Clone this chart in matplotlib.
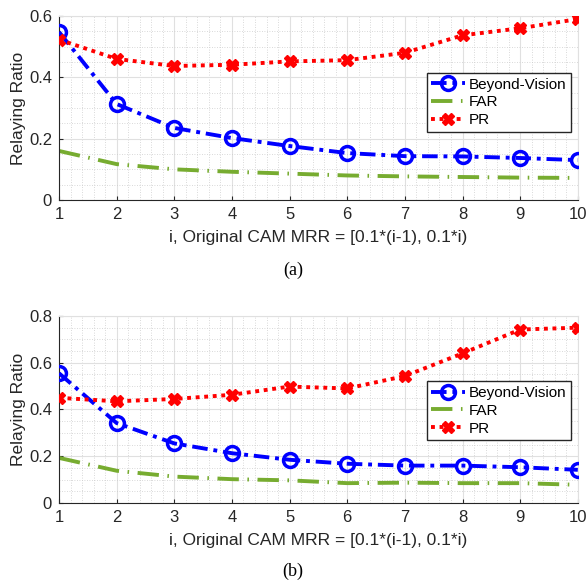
import matplotlib
matplotlib.use('Agg')
import matplotlib.pyplot as plt
from matplotlib.ticker import MultipleLocator, FormatStrFormatter

plt.rcParams['font.family'] = ['Liberation Sans', 'DejaVu Sans']

idx = [1, 2, 3, 4, 5, 6, 7, 8, 9, 10]

# panel (a)
bv_a = [0.548, 0.313, 0.235, 0.202, 0.176, 0.153, 0.143, 0.142, 0.137, 0.130]
far_a = [0.160, 0.117, 0.100, 0.092, 0.086, 0.080, 0.077, 0.075, 0.073, 0.072]
pr_a = [0.523, 0.460, 0.437, 0.441, 0.452, 0.456, 0.480, 0.537, 0.560, 0.590]

# panel (b)
bv_b = [0.555, 0.342, 0.255, 0.213, 0.185, 0.168, 0.160, 0.160, 0.153, 0.142]
far_b = [0.193, 0.138, 0.113, 0.102, 0.097, 0.085, 0.087, 0.085, 0.085, 0.078]
pr_b = [0.450, 0.435, 0.445, 0.463, 0.498, 0.490, 0.543, 0.640, 0.742, 0.750]

fig = plt.figure(figsize=(5.86, 5.86), dpi=100)
ax1 = fig.add_axes([0.1007, 0.6587, 0.8853, 0.314])
ax2 = fig.add_axes([0.1007, 0.1416, 0.8853, 0.3192])


def draw(ax, bv, far, pr, ymax, legy):
    ax.plot(idx, bv, color='blue', linestyle='-.', dashes=(4, 1.5, 1, 1.5), lw=2.8,
            marker='o', ms=10, mfc='none', mew=2.5, label='Beyond-Vision', zorder=3)
    ax.plot(idx, far, color='#77ac30', linestyle='-.', dashes=(5.5, 2.2, 0.4, 2.2), lw=2.8,
            label='FAR', zorder=2)
    ax.plot(idx, pr, color='red', linestyle=':', dashes=(1, 1.2), lw=2.8,
            marker='X', ms=8, mfc='red', mec='red', label='PR', zorder=3)
    ax.set_xlim(1, 10)
    ax.set_ylim(0, ymax)
    ax.set_xticks(idx)
    ax.yaxis.set_major_locator(MultipleLocator(0.2))
    ax.yaxis.set_major_formatter(FormatStrFormatter('%g'))
    ax.xaxis.set_minor_locator(MultipleLocator(0.2))
    ax.yaxis.set_minor_locator(MultipleLocator(0.05))
    ax.grid(which='major', color='#e0e0e0', lw=0.8)
    ax.grid(which='minor', color='#cccccc', lw=0.6, linestyle=(0, (1, 2)))
    ax.set_axisbelow(True)
    ax.tick_params(which='both', direction='in', labelsize=12, colors='#262626',
                   length=0, pad=5)
    ax.tick_params(which='major', length=3, color='#262626')
    for s in ['top', 'right']:
        ax.spines[s].set_color('#e0e0e0')
    for s in ['left', 'bottom']:
        ax.spines[s].set_color('#262626')
    ax.set_xlabel('i, Original CAM MRR = [0.1*(i-1), 0.1*i)', fontsize=12.5,
                  color='#262626', labelpad=6)
    ax.set_ylabel('Relaying Ratio', fontsize=12.5, color='#262626', labelpad=2)
    leg = ax.legend(loc='upper right', bbox_to_anchor=(0.987, legy), fontsize=11,
                    fancybox=False, edgecolor='#262626', framealpha=1,
                    handlelength=2.2, borderpad=0.3, labelspacing=0.25,
                    handletextpad=0.25, borderaxespad=0)
    leg.get_frame().set_linewidth(1.0)


draw(ax1, bv_a, far_a, pr_a, 0.6, 0.69)
draw(ax2, bv_b, far_b, pr_b, 0.8, 0.65)

fig.text(0.5, 1 - 270 / 586, '(a)', ha='center', va='center',
         family='Liberation Serif', fontsize=13)
fig.text(0.5, 1 - 571 / 586, '(b)', ha='center', va='center',
         family='Liberation Serif', fontsize=13)

fig.savefig('out.png', dpi=100)
